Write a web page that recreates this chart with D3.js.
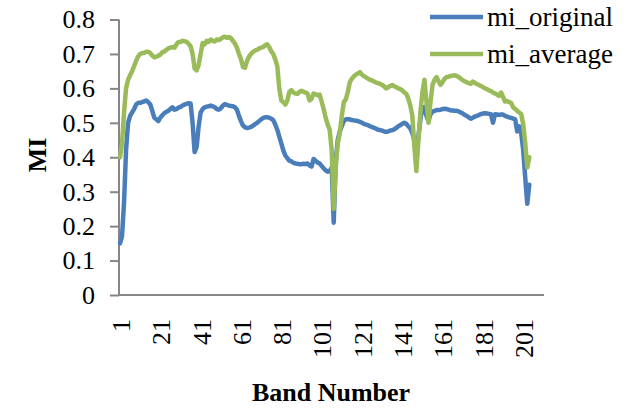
<!DOCTYPE html>
<html>
<head>
<meta charset="utf-8">
<script src="https://cdn.jsdelivr.net/npm/d3@7"></script>
<style>
  html, body { margin: 0; padding: 0; background: #fff; }
  svg { display: block; font-family: "Liberation Serif", "Times New Roman", serif; }
</style>
</head>
<body>
<svg id="chart" width="628" height="412"></svg>
<script>
// Mutual information per spectral band
const miOriginal = [
  0.15,0.17,0.27,0.42,0.50,0.52,0.53,0.54,0.553,0.558,
  0.558,0.56,0.562,0.565,0.56,0.553,0.535,0.515,0.51,0.505,
  0.515,0.522,0.528,0.532,0.535,0.54,0.545,0.538,0.54,0.544,
  0.546,0.55,0.553,0.555,0.557,0.556,0.50,0.415,0.43,0.49,
  0.53,0.54,0.545,0.547,0.548,0.55,0.548,0.545,0.54,0.538,
  0.542,0.55,0.554,0.552,0.55,0.549,0.548,0.545,0.538,0.52,
  0.505,0.492,0.487,0.485,0.486,0.488,0.492,0.496,0.50,0.505,
  0.51,0.514,0.516,0.516,0.515,0.512,0.508,0.495,0.48,0.46,
  0.44,0.42,0.405,0.397,0.39,0.388,0.384,0.382,0.381,0.38,
  0.38,0.381,0.38,0.382,0.376,0.373,0.395,0.39,0.385,0.382,
  0.375,0.368,0.362,0.358,0.36,0.37,0.21,0.39,0.45,0.475,
  0.49,0.505,0.51,0.51,0.51,0.508,0.507,0.506,0.505,0.503,
  0.50,0.497,0.495,0.493,0.49,0.488,0.485,0.483,0.48,0.479,
  0.477,0.475,0.474,0.475,0.477,0.479,0.481,0.485,0.49,0.493,
  0.497,0.50,0.497,0.49,0.484,0.47,0.45,0.40,0.46,0.51,
  0.545,0.545,0.52,0.505,0.525,0.532,0.535,0.537,0.537,0.538,
  0.54,0.541,0.54,0.538,0.536,0.536,0.535,0.535,0.533,0.53,
  0.527,0.523,0.52,0.516,0.512,0.515,0.518,0.52,0.523,0.525,
  0.527,0.528,0.527,0.526,0.525,0.50,0.525,0.524,0.523,0.524,
  0.524,0.52,0.518,0.516,0.514,0.512,0.51,0.475,0.49,0.47,
  0.42,0.34,0.265,0.32
];

const miAverage = [
  0.40,0.44,0.53,0.60,0.625,0.638,0.65,0.665,0.68,0.693,
  0.70,0.703,0.703,0.706,0.706,0.703,0.695,0.69,0.692,0.695,
  0.698,0.705,0.707,0.712,0.716,0.718,0.72,0.718,0.728,0.735,
  0.735,0.738,0.737,0.735,0.73,0.722,0.70,0.658,0.652,0.668,
  0.70,0.732,0.728,0.738,0.735,0.742,0.738,0.736,0.742,0.74,
  0.744,0.748,0.75,0.747,0.749,0.746,0.738,0.73,0.718,0.70,
  0.685,0.662,0.66,0.68,0.692,0.70,0.706,0.71,0.712,0.716,
  0.718,0.72,0.725,0.728,0.72,0.708,0.70,0.684,0.665,0.60,
  0.565,0.56,0.553,0.565,0.59,0.595,0.588,0.585,0.584,0.59,
  0.593,0.59,0.588,0.585,0.565,0.57,0.585,0.583,0.58,0.582,
  0.562,0.54,0.515,0.495,0.48,0.42,0.25,0.37,0.44,0.47,
  0.52,0.56,0.568,0.59,0.618,0.628,0.635,0.64,0.643,0.647,
  0.64,0.635,0.632,0.628,0.625,0.623,0.62,0.617,0.615,0.613,
  0.61,0.606,0.60,0.603,0.607,0.61,0.606,0.603,0.60,0.598,
  0.594,0.588,0.584,0.57,0.55,0.52,0.43,0.36,0.45,0.53,
  0.59,0.625,0.56,0.50,0.56,0.61,0.625,0.633,0.62,0.61,
  0.618,0.628,0.633,0.634,0.636,0.637,0.638,0.636,0.633,0.628,
  0.624,0.62,0.618,0.615,0.613,0.62,0.616,0.612,0.61,0.607,
  0.604,0.60,0.598,0.594,0.592,0.588,0.585,0.582,0.578,0.588,
  0.575,0.562,0.563,0.56,0.558,0.545,0.54,0.535,0.53,0.525,
  0.495,0.44,0.37,0.40
];

const bandNumbers = miOriginal.map((_, i) => i + 1);
const xTickValues = [1, 21, 41, 61, 81, 101, 121, 141, 161, 181, 201];
const yTickValues = [0, 0.1, 0.2, 0.3, 0.4, 0.5, 0.6, 0.7, 0.8];

const seriesList = [
  { name: "mi_original", values: miOriginal, color: "#4a7ebb" },
  { name: "mi_average",  values: miAverage,  color: "#9abb59" }
];

const svg = d3.select("#chart");
const axisColor = "#868686";

const plotLeft = 119, plotRight = 544, plotTop = 19.5, plotBottom = 295;

const x = d3.scaleLinear().domain([0.5, 211.3]).range([plotLeft, plotRight]);
const y = d3.scaleLinear().domain([0, 0.8]).range([plotBottom, plotTop]);

// Y axis with outward ticks
const yAxis = d3.axisLeft(y)
  .tickValues(yTickValues)
  .tickFormat(d => d === 0 ? "0" : d3.format(".1f")(d))
  .tickSize(9)
  .tickPadding(15);

const gy = svg.append("g").attr("transform", `translate(${plotLeft},0)`).call(yAxis);
gy.select(".domain").attr("stroke", axisColor).attr("stroke-width", 2)
  .attr("d", `M0,${plotTop}V${plotBottom}`);
gy.selectAll(".tick line").attr("stroke", axisColor).attr("stroke-width", 2);
gy.selectAll(".tick text")
  .attr("fill", "#000")
  .style("font-size", "26px")
  .style("font-family", "Liberation Serif, Times New Roman, serif");

// X axis: category labels only, rotated
const xAxis = d3.axisBottom(x)
  .tickValues(xTickValues)
  .tickFormat(d3.format("d"))
  .tickSize(0);

const gx = svg.append("g").attr("transform", `translate(0,${plotBottom})`).call(xAxis);
gx.select(".domain").attr("stroke", axisColor).attr("stroke-width", 2)
  .attr("d", `M${plotLeft - 1},0H${plotRight}`);
gx.selectAll(".tick text")
  .attr("fill", "#000")
  .style("font-size", "26px")
  .style("font-family", "Liberation Serif, Times New Roman, serif")
  .attr("text-anchor", "end")
  .attr("x", 0)
  .attr("y", 0)
  .attr("dy", "0.36em")
  .attr("transform", "translate(0,24) rotate(-90)");

// Lines
const line = d3.line()
  .x((d, i) => x(bandNumbers[i]))
  .y(d => y(d))
  .curve(d3.curveLinear);

svg.append("g").selectAll("path")
  .data(seriesList)
  .join("path")
  .attr("d", s => line(s.values))
  .attr("fill", "none")
  .attr("stroke", s => s.color)
  .attr("stroke-width", 4.5)
  .attr("stroke-linejoin", "round")
  .attr("stroke-linecap", "round");

// Axis titles
svg.append("text")
  .attr("x", 331).attr("y", 401)
  .attr("text-anchor", "middle")
  .style("font-size", "26px").style("font-weight", "bold")
  .text("Band Number");

svg.append("text")
  .attr("transform", "translate(46,155) rotate(-90)")
  .attr("text-anchor", "middle")
  .style("font-size", "26px").style("font-weight", "bold")
  .text("MI");

// Legend
const legend = svg.append("g").attr("transform", "translate(430,17)");
const item = legend.selectAll("g")
  .data(seriesList)
  .join("g")
  .attr("transform", (d, i) => `translate(0,${i * 37})`);
item.append("line")
  .attr("x1", 0).attr("x2", 53).attr("y1", 0).attr("y2", 0)
  .attr("stroke", d => d.color).attr("stroke-width", 4.5);
item.append("text")
  .attr("x", 57).attr("y", 0).attr("dy", "0.32em")
  .style("font-size", "27px")
  .text(d => d.name);
</script>
</body>
</html>
